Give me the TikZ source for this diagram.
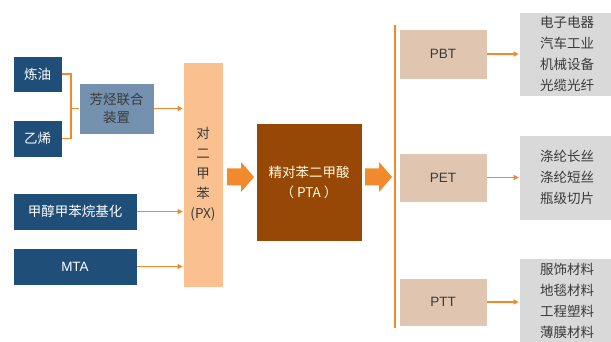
\documentclass[tikz,border=0pt]{standalone}
\usepackage{fontspec}
\setmainfont{Liberation Sans}
\newfontfamily\cjk{Noto Sans CJK SC}
\usetikzlibrary{arrows.meta}
\definecolor{dblue}{HTML}{1F4E79}
\definecolor{sblue}{HTML}{7591B0}
\definecolor{pxc}{HTML}{FAC090}
\definecolor{ptac}{HTML}{974706}
\definecolor{prodc}{HTML}{E0C6B1}
\definecolor{grayc}{HTML}{D9D9D9}
\definecolor{orc}{HTML}{F08A2C}
\definecolor{txtd}{HTML}{3A3A3A}
\tikzset{
  box/.style={draw=white, line width=0.6pt, inner sep=0pt, font=\cjk\fontsize{13.5}{17.5}\selectfont, align=center},
  srcbox/.style={box, fill=dblue, text=white},
  prodbox/.style={box, fill=prodc, text=txtd},
  usebox/.style={box, fill=grayc, text=txtd, font=\cjk\fontsize{13.5}{21}\selectfont},
  conn/.style={draw=orc, line width=1.2pt},
  arr/.style={conn, -{Triangle[length=5pt,width=5pt]}},
  fatarrow/.style={fill=orc, draw=none}
}
\begin{document}
\begin{tikzpicture}[x=1pt,y=-1pt]
\useasboundingbox (0,0) rectangle (611,342);
% left sources
\node[srcbox, minimum width=49pt, minimum height=36pt] (ly) at (37.5,74) {炼油};
\node[srcbox, minimum width=49pt, minimum height=37pt] (yx) at (37.5,138.5) {乙烯};
\node[box, fill=sblue, text=txtd, minimum width=75pt, minimum height=51pt] (fj) at (116.5,108.5) {芳烃联合\\装置};
\node[srcbox, minimum width=124pt, minimum height=37pt] (jc) at (75,211.5) {甲醇甲苯烷基化};
\node[srcbox, minimum width=124pt, minimum height=37pt, font=\fontsize{13.5}{15}\selectfont] (mta) at (75,266.5) {MTA};
% PX
\node[box, fill=pxc, text=txtd, minimum width=40pt, minimum height=225pt, font=\cjk\fontsize{13.5}{20}\selectfont] (px) at (203,174.5) {对\\二\\甲\\苯\\(PX)};
% PTA
\node[box, fill=ptac, text=white!88!yellow, minimum width=106pt, minimum height=118pt, font=\cjk\fontsize{13.5}{20}\selectfont] (pta) at (309,182) {精对苯二甲酸\\（ PTA ）};
% products
\node[prodbox, minimum width=88pt, minimum height=50pt, font=\fontsize{13.5}{15}\selectfont] (pbt) at (443,54) {PBT};
\node[prodbox, minimum width=88pt, minimum height=49pt, font=\fontsize{13.5}{15}\selectfont] (pet) at (443,177.5) {PET};
\node[prodbox, minimum width=88pt, minimum height=48pt, font=\fontsize{13.5}{15}\selectfont] (ptt) at (443,302) {PTT};
% uses
\node[usebox, minimum width=96pt, minimum height=84pt] (u1) at (567,54) {电子电器\\汽车工业\\机械设备\\光缆光纤};
\node[usebox, minimum width=96pt, minimum height=85pt] (u2) at (567,177.5) {涤纶长丝\\涤纶短丝\\瓶级切片};
\node[usebox, minimum width=96pt, minimum height=86pt, anchor=north] (u3) at (567,258) {服饰材料\\地毯材料\\工程塑料\\薄膜材料};
% connectors
\coordinate (jn) at (71,108.5);
\draw[conn] (ly.east) -| (jn);
\draw[conn] (yx.east) -| (jn);
\draw[conn] (jn) -- (fj.west);
\draw[arr] (fj.east) -- (fj.east -| px.west);
\draw[arr] (jc.east) -- (jc.east -| px.west);
\draw[arr] (mta.east) -- (mta.east -| px.west);
% fat arrows
\fill[fatarrow] (227,168.5) -- (241,168.5) -- (241,162) -- (254,177) -- (241,192) -- (241,185.5) -- (227,185.5) -- cycle;
\fill[fatarrow] (365,168.5) -- (379,168.5) -- (379,162) -- (392,177) -- (379,192) -- (379,185.5) -- (365,185.5) -- cycle;
\coordinate (vt) at (395,25);
\coordinate (vb) at (395,328);
\draw[conn] (vt) -- (vb);
\draw[arr] (pbt.east) -- (pbt.east -| u1.west);
\draw[arr] (pet.east) -- (pet.east -| u2.west);
\draw[arr] (ptt.east) -- (ptt.east -| u3.west);
\end{tikzpicture}
\end{document}
